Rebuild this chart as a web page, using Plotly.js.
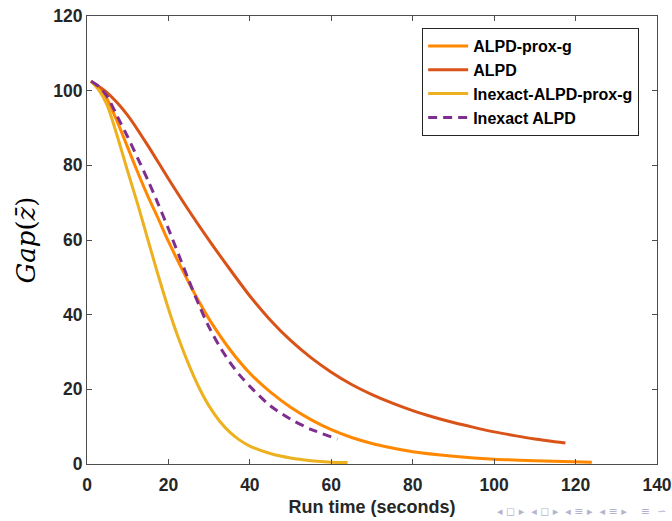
<!DOCTYPE html>
<html><head><meta charset="utf-8">
<script src="https://cdn.plot.ly/plotly-3.0.1.min.js"></script>
<style>body{margin:0;background:#fff}#c{width:672px;height:521px}</style>
</head><body><div id="c"></div>
<script>
// ALPD-prox-g
const xProx = [1, 3, 5, 7.5, 10, 12.5, 15, 17.5, 20, 22.5, 25, 27.5, 30, 35, 40, 45, 50, 55, 60, 65, 70, 75, 80, 90, 100, 110, 124];
const yProx = [102.5, 100.5, 97.6, 91.5, 84.8, 78, 71.6, 65.7, 59.6, 54, 48.6, 43.5, 38.8, 30.8, 24.3, 19.3, 15.2, 11.9, 9.2, 7.1, 5.5, 4.3, 3.3, 2.1, 1.3, 0.9, 0.5];
// ALPD
const xAlpd = [1, 5, 10, 15, 20, 25, 30, 35, 40, 45, 50, 55, 60, 65, 70, 75, 80, 85, 90, 95, 100, 105, 110, 117.5];
const yAlpd = [102.5, 99.4, 93.4, 85.2, 76.4, 67.9, 59.9, 52.3, 45, 38.6, 33.1, 28.5, 24.6, 21.3, 18.6, 16.3, 14.3, 12.6, 11.1, 9.8, 8.6, 7.6, 6.7, 5.6];
// Inexact-ALPD-prox-g
const xInProx = [1, 3, 5, 7.5, 10, 12.5, 15, 17.5, 20, 22.5, 25, 27.5, 30, 32.5, 35, 37.5, 40, 45, 50, 55, 60, 64];
const yInProx = [102.5, 100, 96, 87.6, 78.4, 69.4, 59.9, 50.5, 41.6, 33.6, 26.6, 20.5, 15.5, 11.6, 8.6, 6.4, 4.8, 2.8, 1.6, 0.9, 0.5, 0.4];
// Inexact ALPD
const xInAlpd = [1, 3, 5, 7.5, 10, 12.5, 15, 17.5, 20, 22.5, 25, 27.5, 30, 32.5, 35, 37.5, 40, 45, 50, 55, 61.5];
const yInAlpd = [102.5, 101, 98.4, 93, 87.6, 81.8, 75.9, 69.6, 63, 56.1, 49.2, 42.6, 36.6, 31.6, 27.4, 23.8, 20.8, 15.6, 12, 9.3, 6.7];

const names = ['ALPD-prox-g', 'ALPD', 'Inexact-ALPD-prox-g', 'Inexact ALPD'];
const colors = ['#FF8800', '#D95319', '#EDB120', '#7E2F8E'];
const xTicks = [0, 20, 40, 60, 80, 100, 120, 140];
const yTicks = [0, 20, 40, 60, 80, 100, 120];

const series = [[xProx, yProx], [xAlpd, yAlpd], [xInProx, yInProx], [xInAlpd, yInAlpd]];
const traces = series.map((s, i) => ({
  x: s[0], y: s[1], name: names[i], type: 'scatter', mode: 'lines',
  line: {color: colors[i], width: 3, shape: 'spline', smoothing: 0.7, dash: i === 3 ? '9px,6px' : 'solid'}
}));

const tickFont = {family: 'Liberation Sans, Arial, sans-serif', size: 17.5, color: '#262626', weight: 'bold'};
const axisCommon = {
  showgrid: false, zeroline: false, showline: true, linecolor: '#4d4d4d', linewidth: 1,
  mirror: 'ticks', ticks: 'inside', ticklen: 5, tickcolor: '#4d4d4d', tickfont: tickFont
};

const layout = {
  width: 672, height: 521,
  margin: {l: 87, r: 15, t: 16, b: 57},
  paper_bgcolor: '#fff', plot_bgcolor: '#fff',
  showlegend: true,
  legend: {
    x: 0.588, y: 0.973, xanchor: 'left', yanchor: 'top',
    bgcolor: '#fff', bordercolor: '#262626', borderwidth: 1,
    font: {family: 'Liberation Sans, Arial, sans-serif', size: 16, color: '#000', weight: 'bold'},
    tracegroupgap: 0, itemwidth: 40
  },
  xaxis: Object.assign({}, axisCommon, {
    range: [0, 140], tickvals: xTicks, ticktext: xTicks.map(String), ticklabelstandoff: 5,
    title: {text: '<b>Run time (seconds)</b>', font: {family: 'Liberation Sans, Arial, sans-serif', size: 18, color: '#262626'}, standoff: 6}
  }),
  yaxis: Object.assign({}, axisCommon, {
    range: [0, 120], tickvals: yTicks, ticktext: yTicks.map(String),
    title: {text: '<i>Gap</i>(<i>z\u0304</i>)', font: {family: 'DejaVu Serif, Liberation Serif, serif', size: 26, color: '#000'}, standoff: 10}
  }),
  annotations: [{
    xref: 'paper', yref: 'paper', x: 1.02, y: -0.107, xanchor: 'right', yanchor: 'middle', showarrow: false,
    text: '\u25C2 \u25FB \u25B8 \u00A0\u25C2 \u25FB \u25B8 \u00A0\u25C2 \u2261 \u25B8 \u00A0\u25C2 \u2261 \u25B8 \u00A0\u00A0 \u2261 \u00A0\u223D',
    font: {family: 'DejaVu Sans, sans-serif', size: 11, color: '#b4b4cc'}
  }]
};

Plotly.newPlot('c', traces, layout, {displayModeBar: false, staticPlot: true});
</script></body></html>
